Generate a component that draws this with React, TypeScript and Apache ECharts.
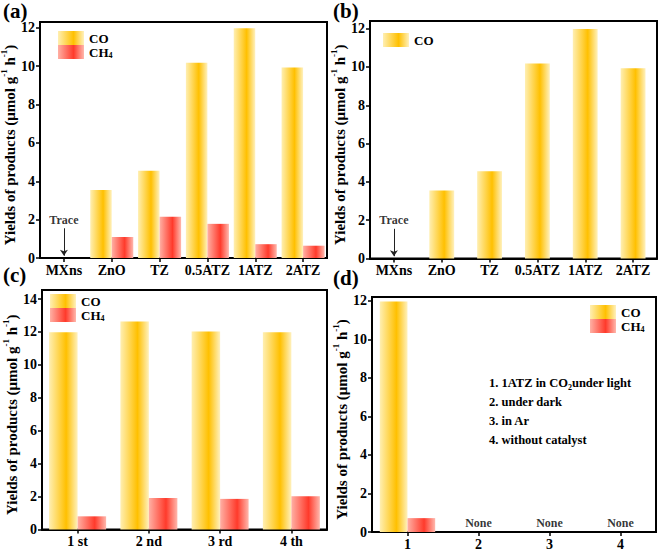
import React, { useEffect, useRef } from "react";
import * as echarts from "echarts";

const FONT = '"Liberation Serif", "Times New Roman", serif';

// Panel (a)
const catsA = ["MXns", "ZnO", "TZ", "0.5ATZ", "1ATZ", "2ATZ"];
const coA = [0, 3.55, 4.55, 10.17, 11.98, 9.93];
const ch4A = [0, 1.1, 2.15, 1.78, 0.72, 0.64];
// Panel (b)
const catsB = ["MXns", "ZnO", "TZ", "0.5ATZ", "1ATZ", "2ATZ"];
const coB = [0, 3.55, 4.55, 10.18, 11.98, 9.93];
// Panel (c)
const catsC = ["1 st", "2 nd", "3 rd", "4 th"];
const coC = [11.99, 12.64, 12.03, 11.99];
const ch4C = [0.8, 1.92, 1.86, 2.02];
// Panel (d)
const catsD = ["1", "2", "3", "4"];
const coD = [11.96, 0, 0, 0];
const ch4D = [0.72, 0, 0, 0];
const noneD = ["-", 0, 0, 0];
const notesD = [
  "{a|1. 1ATZ in CO}{s|2}{a|under light}",
  "{a|2. under dark}",
  "{a|3. in Ar}",
  "{a|4. without catalyst}",
];

const ticksA = [0, 2, 4, 6, 8, 10, 12];
const ticksC = [0, 2, 4, 6, 8, 10, 12, 14];
const ticksD = [0, 2, 4, 6, 8, 10, 12];

const coColor = new echarts.graphic.LinearGradient(0, 0, 1, 0, [
  { offset: 0, color: "#FFEFB2" },
  { offset: 0.6, color: "#FFC000" },
  { offset: 1, color: "#FFF1BE" },
]);
const ch4Color = new echarts.graphic.LinearGradient(0, 0, 1, 0, [
  { offset: 0, color: "#FFB0A4" },
  { offset: 0.6, color: "#FF3A2B" },
  { offset: 1, color: "#FFB8AD" },
]);

const yName = "{a|Yields of products (μmol g}{s|-1}{a| h}{s|-1}{a|)}";

function yAxis(gridIndex: number, max: number, ticks: number[]) {
  return {
    type: "value",
    gridIndex,
    min: 0,
    max,
    axisLine: { show: true, lineStyle: { color: "#000", width: 2 } },
    axisTick: { show: true, inside: false, length: 4, customValues: ticks, lineStyle: { color: "#000", width: 1.5 } },
    axisLabel: { customValues: ticks, color: "#000", fontSize: 14, lineHeight: 12, fontWeight: "bold", fontFamily: FONT, margin: 5 },
    splitLine: { show: false },
    name: yName,
    nameLocation: "middle",
    nameRotate: 90,
    nameGap: 19,
    nameTextStyle: {
      padding: [0, 10, 0, 0],
      rich: {
        a: { fontSize: 15, fontWeight: "bold", fontFamily: FONT, color: "#000", lineHeight: 20 },
        s: { fontSize: 9, fontWeight: "bold", fontFamily: FONT, color: "#000", verticalAlign: "top" },
      },
    },
  };
}

function xAxis(gridIndex: number, data: string[]) {
  return {
    type: "category",
    gridIndex,
    data,
    axisLine: { show: true, lineStyle: { color: "#000", width: 2 } },
    axisTick: { show: true, alignWithLabel: true, inside: false, length: 4, lineStyle: { color: "#000", width: 1.5 } },
    axisLabel: { color: "#000", fontSize: 14, fontWeight: "bold", fontFamily: FONT, margin: 5, interval: 0 },
    splitLine: { show: false },
  };
}

function grid(left: number, top: number, width: number, height: number) {
  return { left, top, width, height, show: true, borderColor: "#000", borderWidth: 2, backgroundColor: "transparent", outerBoundsMode: "none", containLabel: false };
}

function legend(left: number, top: number, data: string[]) {
  return {
    left,
    top,
    orient: "vertical",
    data,
    itemWidth: 26,
    itemHeight: 14,
    itemGap: 0,
    icon: "rect",
    selectedMode: false,
    padding: 0,
    formatter: (n: string) => (n === "CH4" ? "{a|CH}{s|4}" : "{a|" + n + "}"),
    textStyle: {
      rich: {
        a: { fontSize: 13, fontWeight: "bold", fontFamily: FONT, color: "#000", lineHeight: 15 },
        s: { fontSize: 8, fontWeight: "bold", fontFamily: FONT, color: "#000", verticalAlign: "bottom", lineHeight: 6 },
      },
    },
  };
}

function bar(name: string, data: number[], idx: number, color: any, width: string) {
  return {
    type: "bar",
    name,
    data,
    xAxisIndex: idx,
    yAxisIndex: idx,
    barWidth: width,
    barGap: "0%",
    itemStyle: { color },
    silent: true,
  };
}

function trace(idx: number) {
  return {
    type: "scatter",
    xAxisIndex: idx,
    yAxisIndex: idx,
    symbolSize: 0,
    silent: true,
    data: [["MXns", 2]],
    label: { show: true, position: "inside", formatter: "Trace", color: "#000", fontSize: 12, fontWeight: "bold", fontFamily: FONT },
    markLine: {
      silent: true,
      symbol: ["none", "arrow"],
      symbolSize: 6,
      label: { show: false },
      lineStyle: { color: "#222", width: 1, type: "solid" },
      data: [[{ coord: ["MXns", 1.55] }, { coord: ["MXns", 0.12] }]],
    },
  };
}

function panelLabel(text: string, x: number, y: number) {
  return { type: "text", x, y, style: { text, fontSize: 21, lineHeight: 22, fontWeight: "bold", fontFamily: FONT, fill: "#000" } };
}

export default function App() {
  const ref = useRef<HTMLDivElement>(null);
  useEffect(() => {
    document.body.style.margin = "0";
    const chart = echarts.init(ref.current!, null, { renderer: "svg" });
    chart.setOption({
      animation: false,
      backgroundColor: "#fff",
      grid: [grid(40, 22, 287, 236), grid(370, 21, 287, 237.5), grid(42, 290, 285, 239.5), grid(372, 297, 284, 235)],
      xAxis: [xAxis(0, catsA), xAxis(1, catsB), xAxis(2, catsC), xAxis(3, catsD)],
      yAxis: [yAxis(0, 12.3, ticksA), yAxis(1, 12.4, ticksA), yAxis(2, 14.55, ticksC), yAxis(3, 12.2, ticksD)],
      legend: [legend(58, 31, ["CO", "CH4"]), legend(383, 33, ["CO"]), legend(50, 294, ["CO", "CH4"]), legend(590, 305, ["CO", "CH4"])],
      series: [
        bar("CO", coA, 0, coColor, "45%"),
        bar("CH4", ch4A, 0, ch4Color, "45%"),
        trace(0),
        bar("CO", coB, 1, coColor, "52%"),
        trace(1),
        bar("CO", coC, 2, coColor, "40%"),
        bar("CH4", ch4C, 2, ch4Color, "40%"),
        bar("CO", coD, 3, coColor, "39%"),
        bar("CH4", ch4D, 3, ch4Color, "39%"),
        {
          type: "scatter",
          xAxisIndex: 3,
          yAxisIndex: 3,
          symbolSize: 0,
          silent: true,
          data: noneD,
          label: { show: true, position: "top", distance: 3, formatter: "None", color: "#000", fontSize: 12, fontWeight: "bold", fontFamily: FONT },
        },
      ],
      graphic: [
        panelLabel("(a)", 3, 0),
        panelLabel("(b)", 333, 0),
        panelLabel("(c)", 3, 264),
        panelLabel("(d)", 333, 267),
        ...notesD.map((t, i) => ({
          type: "text",
          x: 489,
          y: 383 + i * 19,
          style: {
            text: t,
            verticalAlign: "middle",
            rich: {
              a: { fontSize: 12.5, fontWeight: "bold", fontFamily: FONT, fill: "#000", lineHeight: 16 },
              s: { fontSize: 8, fontWeight: "bold", fontFamily: FONT, fill: "#000", verticalAlign: "bottom" },
            },
          },
        })),
      ],
    });
    return () => chart.dispose();
  }, []);
  return <div ref={ref} style={{ width: 661, height: 554 }} />;
}
